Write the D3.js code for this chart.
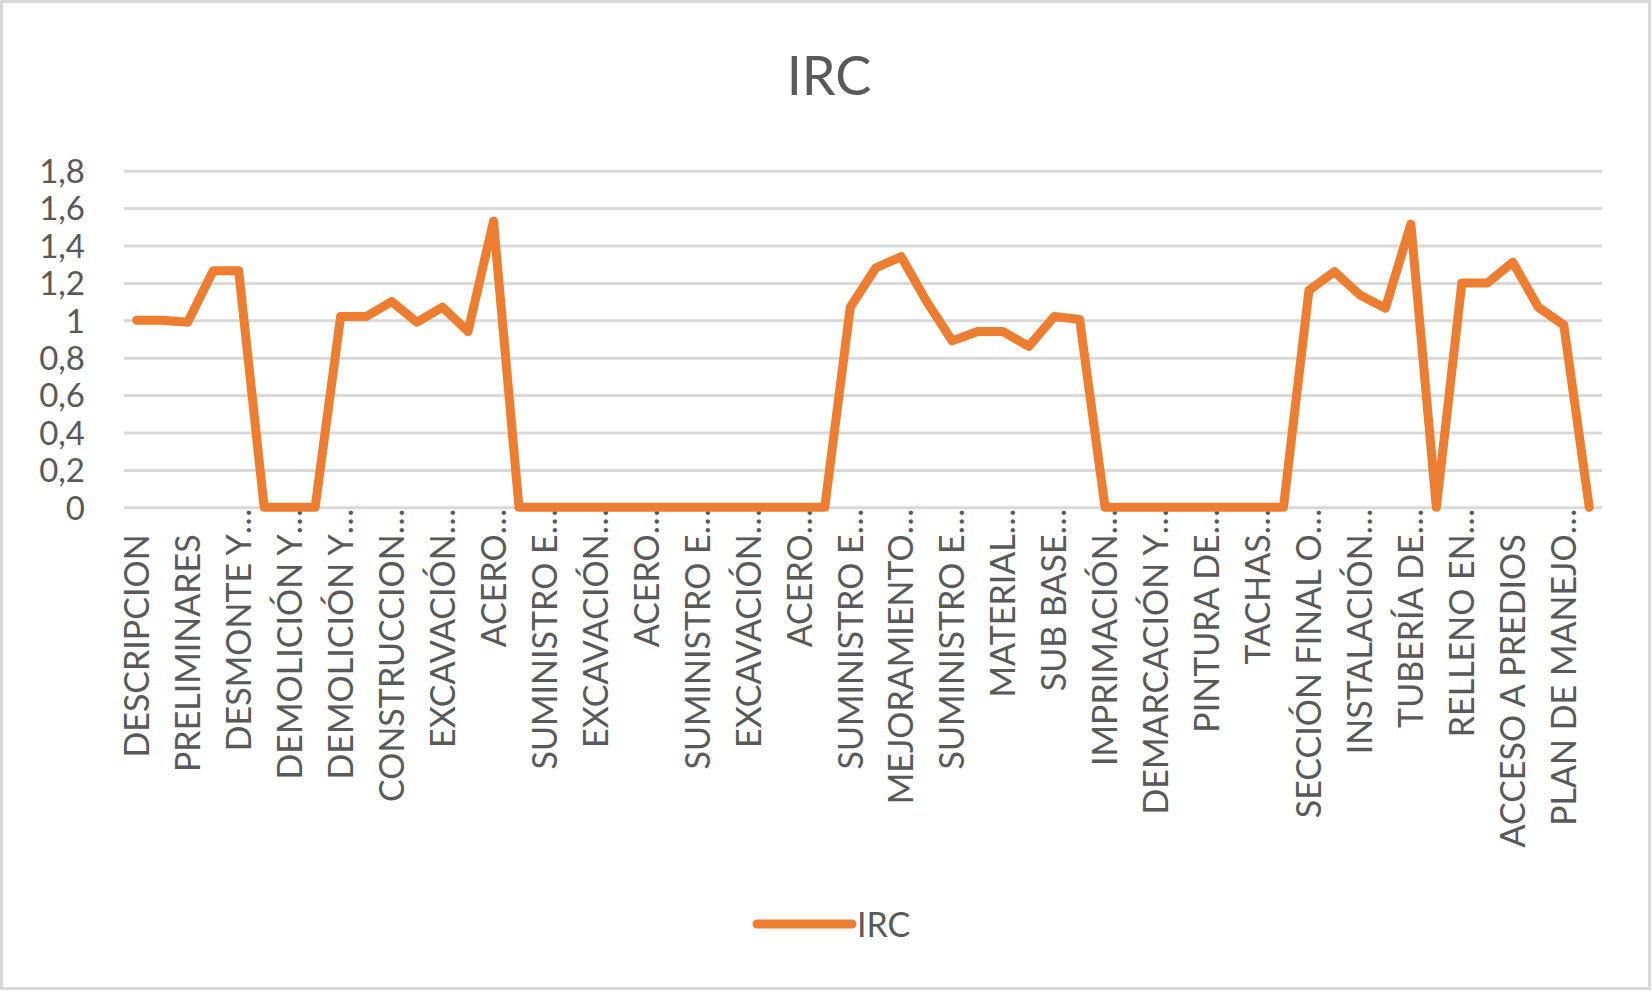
<!DOCTYPE html>
<html>
<head>
<meta charset="utf-8">
<script src="https://cdn.jsdelivr.net/npm/d3@7"></script>
<style>
  html, body { margin: 0; padding: 0; background: #fff; }
  svg { display: block; }
  text { font-family: Lato, "Open Sans", sans-serif; fill: #595959; }
</style>
</head>
<body>
<svg id="chart" width="1652" height="992"></svg>
<script>
// ---- data ----
const title = "IRC";
const seriesName = "IRC";
// labels shown on every other category (index 0, 2, 4, ...)
const shownLabels = [
  "DESCRIPCION", "PRELIMINARES", "DESMONTE Y…", "DEMOLICIÓN Y…", "DEMOLICIÓN Y…",
  "CONSTRUCCION…", "EXCAVACIÓN…", "ACERO…", "SUMINISTRO E…", "EXCAVACIÓN…",
  "ACERO…", "SUMINISTRO E…", "EXCAVACIÓN…", "ACERO…", "SUMINISTRO E…",
  "MEJORAMIENTO…", "SUMINISTRO E…", "MATERIAL…", "SUB BASE…", "IMPRIMACIÓN…",
  "DEMARCACIÓN Y…", "PINTURA DE…", "TACHAS…", "SECCIÓN FINAL O…", "INSTALACIÓN…",
  "TUBERÍA DE…", "RELLENO EN…", "ACCESO A PREDIOS", "PLAN DE MANEJO…"
];
const values = [
  1.00, 1.00, 0.99, 1.265, 1.265, 0, 0, 0, 1.02, 1.02,
  1.10, 0.99, 1.07, 0.94, 1.53, 0, 0, 0, 0, 0,
  0, 0, 0, 0, 0, 0, 0, 0, 1.07, 1.28,
  1.34, 1.10, 0.89, 0.94, 0.94, 0.86, 1.02, 1.005, 0, 0,
  0, 0, 0, 0, 0, 0, 1.16, 1.26, 1.135, 1.065,
  1.515, 0, 1.20, 1.20, 1.31, 1.07, 0.975, 0
];
const yTicks = [0, 0.2, 0.4, 0.6, 0.8, 1, 1.2, 1.4, 1.6, 1.8];
const categories = values.map((v, i) => i);

// ---- layout ----
const svg = d3.select("#chart");
const W = 1652, H = 992;
const plot = { left: 124, right: 1602, top: 170.7, bottom: 507.3 };
const lineColor = "#ED7D31";
const gridColor = "#d9d9d9";

svg.append("rect")
  .attr("x", 1.5).attr("y", 1.5)
  .attr("width", W - 4).attr("height", H - 5)
  .attr("fill", "#fff").attr("stroke", "#d9d9d9").attr("stroke-width", 3);

const x = d3.scaleBand().domain(categories).range([plot.left, plot.right]).padding(0);
const cx = i => x(i) + x.bandwidth() / 2;
const y = d3.scaleLinear().domain([0, 1.8]).range([plot.bottom, plot.top]);

// title
svg.append("text")
  .attr("x", 829).attr("y", 95)
  .attr("text-anchor", "middle")
  .style("font-size", "54px")
  .text(title);

// gridlines + y axis labels
const yAxis = d3.axisLeft(y)
  .tickValues(yTicks)
  .tickSize(-(plot.right - plot.left))
  .tickPadding(39)
  .tickFormat(d => d3.format("")(d).replace(".", ","));
const gy = svg.append("g").attr("transform", `translate(${plot.left},0)`).call(yAxis);
gy.select(".domain").remove();
gy.selectAll(".tick line").attr("stroke", gridColor).attr("stroke-width", 3);
gy.selectAll(".tick text")
  .style("font-size", "33px").style("font-family", "Lato, sans-serif")
  .attr("fill", "#595959").attr("dy", "0.36em");

// x axis labels (every other category), rotated
const labelIdx = shownLabels.map((l, k) => k * 2);
const xAxis = d3.axisBottom(x)
  .tickValues(labelIdx)
  .tickSize(0)
  .tickFormat(i => shownLabels[i / 2]);
const gx = svg.append("g").attr("transform", `translate(0,${plot.bottom})`).call(xAxis);
gx.select(".domain").remove();
gx.selectAll(".tick text").each(function(i) {
  const full = shownLabels[i / 2];
  const t = d3.select(this);
  const trunc = full.endsWith("…");
  const main = trunc ? full.slice(0, -1) : full;
  t.text(null)
    .attr("transform", "rotate(-90)")
    .attr("x", -27).attr("y", 0).attr("dy", "0.36em")
    .attr("text-anchor", "end")
    .style("font-size", "34px").style("font-family", "Lato, sans-serif")
    .attr("fill", "#595959")
    .text(main);
  if (trunc) {
    d3.select(this.parentNode).append("text")
      .attr("transform", "rotate(-90)")
      .attr("x", -27).attr("y", 0).attr("dy", "0.36em")
      .attr("text-anchor", "start")
      .style("font-size", "34px").style("font-family", "Lato, sans-serif")
      .attr("fill", "#595959")
      .text("…");
  }
});

// line
const line = d3.line().x((d, i) => cx(i)).y(d => y(d));
svg.append("path")
  .datum(values)
  .attr("d", line)
  .attr("fill", "none")
  .attr("stroke", lineColor)
  .attr("stroke-width", 9)
  .attr("stroke-linejoin", "round")
  .attr("stroke-linecap", "round");

// legend
const lg = svg.append("g");
lg.append("line")
  .attr("x1", 757).attr("x2", 852).attr("y1", 924).attr("y2", 924)
  .attr("stroke", lineColor).attr("stroke-width", 9).attr("stroke-linecap", "round");
lg.append("text")
  .attr("x", 857).attr("y", 937)
  .style("font-size", "34px")
  .text(seriesName);
</script>
</body>
</html>
